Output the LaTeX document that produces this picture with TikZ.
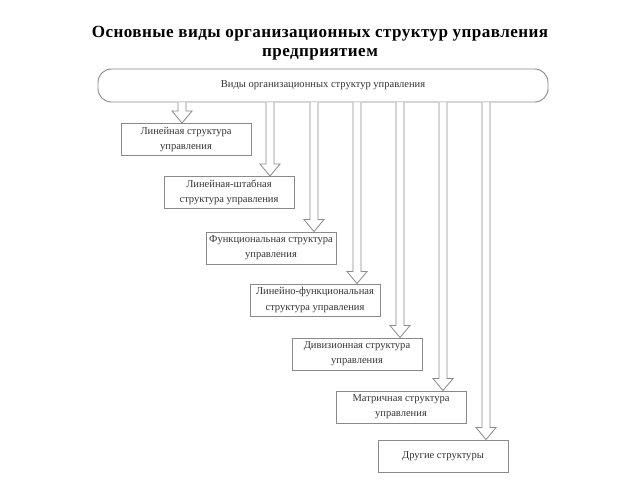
\documentclass[tikz,border=0pt]{standalone}
\usepackage{fontspec}
\setmainfont{Liberation Serif}
\usetikzlibrary{calc}
\definecolor{lnc}{HTML}{8A8A8A}
\definecolor{txc}{HTML}{333333}
\tikzset{
  box/.style={draw=lnc, line width=0.7pt, minimum width=97.5pt, minimum height=24pt,
    inner sep=1pt, align=center, text=txc, font=\fontsize{7.9}{11.4}\selectfont},
  bar/.style={draw=lnc, line width=0.7pt, rounded corners=10pt, minimum width=337.5pt,
    minimum height=24.75pt, text=txc, font=\fontsize{7.9}{11.4}\selectfont},
  arr/.style={draw=lnc, line width=0.6pt, fill=white, line join=miter},
  ttl/.style={align=center, font=\fontsize{12.8}{14.5}\selectfont\bfseries\addfontfeature{LetterSpace=2.5}, text=black}
}
\newcommand{\blockarr}[2]{%
  \path (bar.south -| #1) coordinate (s#1);
  \path (#2.north -| #1) coordinate (t#1);
  \draw[arr] ([xshift=-3pt]s#1) -- ([xshift=-3pt,yshift=9pt]t#1)
    -- ([xshift=-7.5pt,yshift=9pt]t#1) -- (t#1)
    -- ([xshift=7.5pt,yshift=9pt]t#1) -- ([xshift=3pt,yshift=9pt]t#1)
    -- ([xshift=3pt]s#1);
}
\begin{document}
\begin{tikzpicture}[x=0.75pt,y=-0.75pt]
\useasboundingbox (0,0) rectangle (640,480);
\node[ttl] (title) at (320,43) {Основные виды организационных структур управления\\предприятием};
\node[bar] (bar) at (323,85.5) {Виды организационных структур управления};
\node[box] (b1) at (186,139.5) {Линейная структура\\управления};
\node[box] (b2) at (229,192.5) {Линейная-штабная\\структура управления};
\node[box] (b3) at (271,248) {Функциональная структура\\управления};
\node[box] (b4) at (315,300) {Линейно-функциональная\\структура управления};
\node[box] (b5) at (357,354) {Дивизионная структура\\управления};
\node[box] (b6) at (401,407) {Матричная структура\\управления};
\node[box] (b7) at (443,456) {Другие структуры};
\coordinate (a1) at (182,0);
\coordinate (a2) at (270,0);
\coordinate (a3) at (314,0);
\coordinate (a4) at (357,0);
\coordinate (a5) at (400,0);
\coordinate (a6) at (443,0);
\coordinate (a7) at (486,0);
\blockarr{a1}{b1}
\blockarr{a2}{b2}
\blockarr{a3}{b3}
\blockarr{a4}{b4}
\blockarr{a5}{b5}
\blockarr{a6}{b6}
\blockarr{a7}{b7}
\end{tikzpicture}
\end{document}
